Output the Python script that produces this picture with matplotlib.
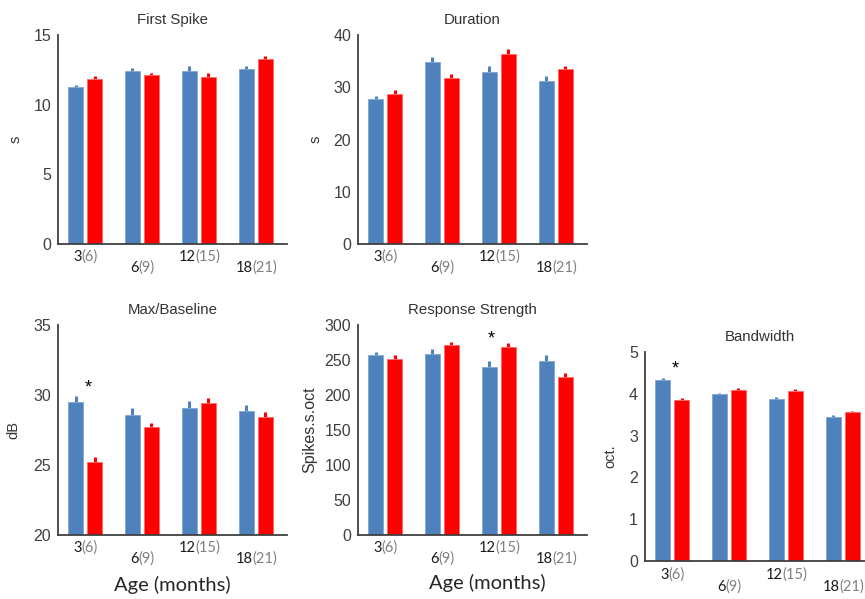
import numpy as np
import matplotlib
matplotlib.use("Agg")
import matplotlib.pyplot as plt
import matplotlib.transforms as mtransforms

plt.rcParams['font.family'] = ['Liberation Sans', 'DejaVu Sans']

# ages (months) and the paired ages in brackets
ages = ['3', '6', '12', '18']
ages_paired = ['(6)', '(9)', '(15)', '(21)']

# First Spike
spike_blue = [11.25, 12.45, 12.45, 12.55]
spike_blue_err = [0.17, 0.21, 0.29, 0.19]
spike_red = [11.85, 12.1, 12.0, 13.3]
spike_red_err = [0.19, 0.17, 0.26, 0.19]

# Duration
dur_blue = [27.8, 34.8, 33.0, 31.2]
dur_blue_err = [0.6, 0.9, 1.0, 0.9]
dur_red = [28.7, 31.8, 36.4, 33.5]
dur_red_err = [0.7, 0.7, 1.0, 0.6]

# Max/Baseline
mb_blue = [29.5, 28.6, 29.05, 28.85]
mb_blue_err = [0.4, 0.45, 0.5, 0.43]
mb_red = [25.2, 27.7, 29.45, 28.45]
mb_red_err = [0.36, 0.33, 0.36, 0.31]

# Response Strength
rs_blue = [257, 259, 240, 249]
rs_blue_err = [5, 7, 8, 8]
rs_red = [252, 271, 269, 226]
rs_red_err = [5, 5, 6, 6]

# Bandwidth
bw_blue = [4.33, 3.99, 3.88, 3.45]
bw_blue_err = [0.05, 0.04, 0.05, 0.05]
bw_red = [3.85, 4.1, 4.07, 3.56]
bw_red_err = [0.05, 0.05, 0.05, 0.04]

BLUE = '#4f81bd'
RED = '#ff0000'
AXC = '#404040'

W, H = 865, 599
CAT_FONT = ['Lato', 'DejaVu Sans']


def px_axes(fig, left, top, right, bottom):
    return fig.add_axes([left / W, 1 - bottom / H, (right - left) / W, (bottom - top) / H])


def panel(ax, title, ylabel, ylim, yticks, blue, blue_err, red, red_err,
          label_x, star=None, lab_off=(9.5, 17.0), ylabel_size=10.5):
    x = np.arange(1, len(ages) + 1)
    ax.bar(x - 0.167, blue, width=0.27, bottom=0, color=BLUE,
           edgecolor='#7fa6d6', linewidth=0.6, zorder=2)
    ax.bar(x + 0.167, red, width=0.27, bottom=0, color=RED,
           edgecolor='#ff6a6a', linewidth=0.6, zorder=2)
    ax.errorbar(x - 0.167, blue, yerr=[np.zeros(len(blue)), blue_err], fmt='none',
                ecolor=BLUE, elinewidth=2.2, capsize=0, zorder=1)
    ax.errorbar(x + 0.167, red, yerr=[np.zeros(len(red)), red_err], fmt='none',
                ecolor=RED, elinewidth=2.2, capsize=0, zorder=1)
    ax.set_xlim(0.525, 4.55)
    ax.set_ylim(*ylim)
    ax.set_yticks(yticks)
    ax.set_xticks([])
    ax.tick_params(axis='y', length=0, pad=5, labelsize=11.5, labelcolor=AXC)
    for s in ['top', 'right']:
        ax.spines[s].set_visible(False)
    for s in ['left', 'bottom']:
        ax.spines[s].set_color(AXC)
        ax.spines[s].set_linewidth(1.3)
    ax.set_title(title, fontsize=10.8, color='#333333', pad=8)
    ax.set_ylabel(ylabel, fontsize=ylabel_size, color='#333333')
    ax.yaxis.set_label_coords(label_x, 0.5)

    # two-colour category labels: black age, grey paired age
    trans = mtransforms.blended_transform_factory(ax.transData, ax.transAxes)
    for i, (a, p) in enumerate(zip(ages, ages_paired)):
        off = lab_off[i % 2]
        black = ax.annotate(a, xy=(x[i] + 0.02, 0), xycoords=trans,
                            xytext=(-3.2, -off), textcoords='offset points',
                            ha='right', va='center', fontsize=10.5,
                            family=CAT_FONT, color='#1a1a1a',
                            annotation_clip=False)
        ax.annotate(p, xy=(1, 0), xycoords=black, ha='left', va='bottom',
                    fontsize=10.5, family=CAT_FONT, color='#808080',
                    annotation_clip=False)
    if star is not None:
        ax.text(star[0], star[1], '*', ha='center', va='center',
                fontsize=13, color='black')


fig = plt.figure(figsize=(W / 100, H / 100), dpi=100)

ax1 = px_axes(fig, 58, 35, 287, 244)
panel(ax1, 'First Spike', 's', (0, 15), [0, 5, 10, 15],
      spike_blue, spike_blue_err, spike_red, spike_red_err, -0.155)

ax2 = px_axes(fig, 358, 35, 587, 244)
panel(ax2, 'Duration', 's', (0, 40), [0, 10, 20, 30, 40],
      dur_blue, dur_blue_err, dur_red, dur_red_err, -0.155)

ax3 = px_axes(fig, 58, 325, 287, 535)
panel(ax3, 'Max/Baseline', 'dB', (20, 35), [20, 25, 30, 35],
      mb_blue, mb_blue_err, mb_red, mb_red_err, -0.165, star=(1.05, 30.5))
ax3.set_xlabel('Age (months)', fontsize=14.5, family=CAT_FONT, color='#262626')
ax3.xaxis.set_label_coords(0.5, -0.195)

ax4 = px_axes(fig, 358, 325, 587, 535)
panel(ax4, 'Response Strength', 'Spikes.s.oct', (0, 300), [0, 50, 100, 150, 200, 250, 300],
      rs_blue, rs_blue_err, rs_red, rs_red_err, -0.18, star=(2.87, 280),
      ylabel_size=11.5)
ax4.set_xlabel('Age (months)', fontsize=14.5, family=CAT_FONT, color='#262626')
ax4.xaxis.set_label_coords(0.565, -0.185)

ax5 = px_axes(fig, 645, 352, 874, 561)
panel(ax5, 'Bandwidth', 'oct.', (0, 5), [0, 1, 2, 3, 4, 5],
      bw_blue, bw_blue_err, bw_red, bw_red_err, -0.12, star=(1.05, 4.6),
      lab_off=(10.0, 18.5))

fig.savefig('out.png', dpi=100)
